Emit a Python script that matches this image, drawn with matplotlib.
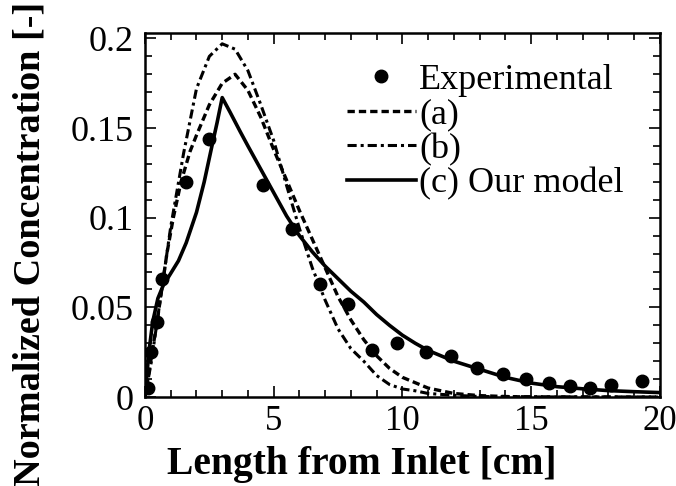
import matplotlib
matplotlib.use("Agg")
import matplotlib.pyplot as plt
import matplotlib.ticker as ticker

# experimental points
exp_x = [0.1, 0.25, 0.45, 0.65, 1.6, 2.5, 4.6, 5.7, 6.8, 7.9, 8.8, 9.8, 10.9, 11.9, 12.9, 13.9, 14.8, 15.7, 16.5, 17.3, 18.1, 19.3]
exp_y = [0.005, 0.025, 0.042, 0.066, 0.120, 0.144, 0.118, 0.094, 0.063, 0.052, 0.026, 0.030, 0.025, 0.023, 0.016, 0.013, 0.010, 0.008, 0.006, 0.005, 0.007, 0.009]

# model (a) dashed
a_x = [0, 0.5, 0.85, 1.1, 1.4, 1.75, 2.0, 2.5, 3.0, 3.5, 4.0, 4.5, 5.0, 5.5, 6.0, 6.5, 7.0, 7.5, 8.0, 8.5, 9.0, 9.5, 10.0, 10.5, 11.0, 12.0, 13.0, 14.0, 15.0, 20.0]
a_y = [0, 0.045, 0.080, 0.100, 0.120, 0.137, 0.146, 0.163, 0.175, 0.180, 0.171, 0.156, 0.138, 0.121, 0.104, 0.088, 0.072, 0.056, 0.043, 0.032, 0.023, 0.016, 0.011, 0.008, 0.005, 0.002, 0.0008, 0.0003, 0.0, 0.0]

# model (b) dash-dot
b_x = [0, 0.25, 0.5, 1.0, 1.5, 2.0, 2.5, 3.0, 3.5, 4.0, 4.5, 5.0, 5.5, 6.0, 6.5, 7.0, 7.5, 8.0, 8.5, 9.0, 9.5, 10.0, 10.5, 11.0, 12.0, 13.0, 20.0]
b_y = [0, 0.020, 0.045, 0.095, 0.136, 0.172, 0.190, 0.197, 0.194, 0.182, 0.163, 0.143, 0.118, 0.094, 0.072, 0.054, 0.038, 0.027, 0.020, 0.012, 0.007, 0.0045, 0.0035, 0.002, 0.001, 0.0003, 0.0]

# model (c) solid, our model
c_x = [0, 0.15, 0.3, 0.5, 0.7, 1.0, 1.3, 1.6, 2.0, 2.3, 2.6, 2.8, 3.0, 3.3, 3.7, 4.0, 4.5, 5.0, 5.5, 6.0, 6.5, 7.0, 7.5, 8.0, 8.5, 9.0, 9.5, 10.0, 10.5, 11.0, 11.5, 12.0, 13.0, 14.0, 15.0, 16.0, 17.0, 18.0, 19.0, 20.0]
c_y = [0, 0.025, 0.042, 0.055, 0.062, 0.069, 0.076, 0.086, 0.103, 0.120, 0.140, 0.153, 0.167, 0.159, 0.148, 0.140, 0.127, 0.114, 0.101, 0.090, 0.081, 0.073, 0.066, 0.059, 0.053, 0.046, 0.040, 0.0345, 0.030, 0.026, 0.023, 0.020, 0.0155, 0.011, 0.0078, 0.0058, 0.0046, 0.0036, 0.003, 0.0025]

plt.rcParams['font.family'] = ['Liberation Serif', 'DejaVu Serif']

fig = plt.figure(figsize=(6.76, 4.86), dpi=100)
ax = fig.add_axes([0.2145, 0.183, 0.7615, 0.749])

ax.plot(exp_x, exp_y, 'o', color='black', markersize=9, label='Experimental')
ax.plot(a_x, a_y, color='black', lw=2.4, dashes=(2.2, 1.2), label='(a)')
ax.plot(b_x, b_y, color='black', lw=2.2, dashes=(3, 1.3, 1, 1.3), label='(b)')
ax.plot(c_x, c_y, color='black', lw=2.6, label='(c) Our model')

ax.set_xlim(0, 20)
ax.set_ylim(0, 0.203)
ax.xaxis.set_major_locator(ticker.MultipleLocator(5))
ax.xaxis.set_minor_locator(ticker.MultipleLocator(1))
ax.yaxis.set_major_locator(ticker.FixedLocator([0, 0.05, 0.1, 0.15, 0.2]))
ax.yaxis.set_minor_locator(ticker.MultipleLocator(0.01))
ax.yaxis.set_major_formatter(ticker.FuncFormatter(lambda v, p: f"{v:g}"))
ax.tick_params(which='both', direction='in', top=True, right=True, width=1.2)
ax.tick_params(which='major', length=8)
ax.tick_params(which='minor', length=5)
ax.tick_params(axis='y', pad=8, labelsize=26)
ax.tick_params(axis='x', pad=6, labelsize=25)
for s in ax.spines.values():
    s.set_linewidth(1.8)

ax.set_xlabel('Length from Inlet [cm]', fontsize=28.5, fontweight='bold')
ax.set_ylabel('Normalized Concentration [-]', fontsize=27.5, fontweight='bold')
ax.xaxis.set_label_coords(0.421, -0.135)
ax.yaxis.set_label_coords(-0.19, 0.42)

ax.legend(loc='upper right', bbox_to_anchor=(0.93, 0.917), frameon=False, fontsize=26,
          handlelength=1.9, handletextpad=0.1, labelspacing=0.04, borderaxespad=0.0,
          borderpad=0.0)

fig.savefig('out.png', dpi=100)
